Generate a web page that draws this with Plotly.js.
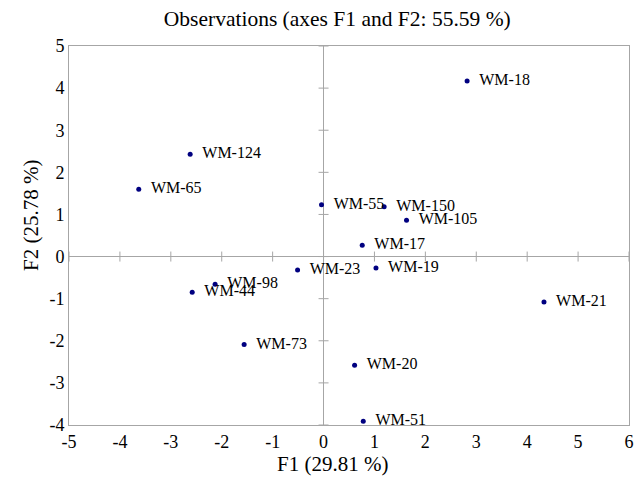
<!DOCTYPE html>
<html><head><meta charset="utf-8">
<script src="https://cdn.plot.ly/plotly-3.0.1.min.js"></script>
<style>body{margin:0;padding:0;background:#fff}#chart{width:640px;height:477px}</style>
</head><body><div id="chart"></div>
<script>
const labels = ["WM-18","WM-124","WM-65","WM-55","WM-150","WM-105","WM-17","WM-23","WM-98","WM-44","WM-73","WM-20","WM-19","WM-21","WM-51"];
const f1 = [2.82,-2.62,-3.63,-0.04,1.19,1.63,0.76,-0.51,-2.13,-2.58,-1.56,0.61,1.03,4.33,0.78];
const f2 = [4.17,2.43,1.60,1.23,1.18,0.86,0.27,-0.32,-0.66,-0.85,-2.09,-2.58,-0.27,-1.08,-3.91];
const xTicks = [-5,-4,-3,-2,-1,0,1,2,3,4,5,6];
const yTicks = [-4,-3,-2,-1,0,1,2,3,4,5];
const xTickText = ["-5","-4","-3","-2","-1","0","1","2","3","4","5","6"];
const yTickText = ["-4","-3","-2","-1","0","1","2","3","4","5"];
const chartTitle = "Observations (axes F1 and F2: 55.59 %)";
const xTitle = "F1 (29.81 %)";
const yTitle = "F2 (25.78 %)";

const font = {family: "Liberation Serif, Times New Roman, serif", color: "#000"};
const gray = "#a6a6a6";

const shapes = [];
xTicks.forEach(v => shapes.push({type:"line", xref:"x", yref:"y", ysizemode:"pixel", yanchor:0,
  x0:v, x1:v, y0:-5, y1:5, line:{color:gray, width:1}}));
yTicks.forEach(v => shapes.push({type:"line", xref:"x", yref:"y", xsizemode:"pixel", xanchor:0,
  x0:-5, x1:5, y0:v, y1:v, line:{color:gray, width:1}}));

const trace = {
  x: f1, y: f2, text: labels.map(s => "\u00a0\u00a0" + s), mode: "markers+text", type: "scatter",
  textposition: "middle right",
  textfont: Object.assign({}, font, {size: 16}),
  marker: {color: "#000080", size: 5},
  cliponaxis: false, hoverinfo: "none"
};

const layout = {
  width: 640, height: 477,
  margin: {l: 69, r: 11, t: 46, b: 52},
  paper_bgcolor: "#fff", plot_bgcolor: "#fff",
  showlegend: false,
  font: font,
  title: {text: chartTitle, font: Object.assign({}, font, {size: 21.5}),
    x: 0.527, xanchor: "center", y: 0.962, yanchor: "middle"},
  xaxis: {range: [-5, 6], tickvals: xTicks, ticktext: xTickText, ticks: "", showgrid: false,
    zeroline: true, zerolinecolor: gray, zerolinewidth: 1,
    showline: true, mirror: true, linecolor: gray, linewidth: 1,
    tickfont: Object.assign({}, font, {size: 18})},
  yaxis: {range: [-4, 5], tickvals: yTicks, ticktext: yTickText, ticks: "", showgrid: false,
    zeroline: true, zerolinecolor: gray, zerolinewidth: 1,
    showline: true, mirror: true, linecolor: gray, linewidth: 1,
    tickfont: Object.assign({}, font, {size: 18})},
  annotations: [
    {text: xTitle, xref: "paper", yref: "paper", x: (332-69)/560, y: -(464-425)/379,
     xanchor: "center", yanchor: "middle", showarrow: false, font: Object.assign({}, font, {size: 21})},
    {text: yTitle, xref: "paper", yref: "paper", x: -(69-31)/560, y: (425-216)/379, textangle: -90,
     xanchor: "center", yanchor: "middle", showarrow: false, font: Object.assign({}, font, {size: 21})}
  ],
  shapes: shapes
};

Plotly.newPlot("chart", [trace], layout, {staticPlot: true, displayModeBar: false});
</script></body></html>
